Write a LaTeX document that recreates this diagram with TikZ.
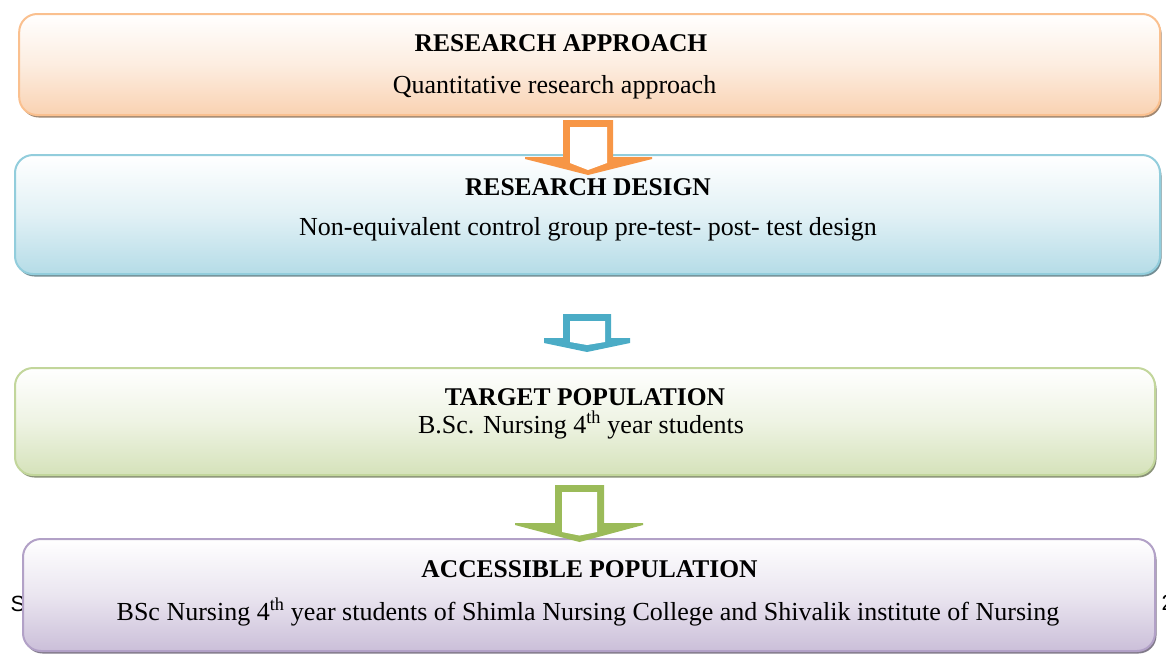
\documentclass[tikz,border=0pt]{standalone}
\usepackage{fontspec}
\setmainfont{Liberation Serif}
\newfontfamily\footfont{Liberation Sans}
\usetikzlibrary{shadows}

% Office-style palette
\definecolor{orgBorder}{HTML}{FAC08F}
\definecolor{orgFill}{HTML}{F9D2B2}
\definecolor{orgArrow}{HTML}{F79646}
\definecolor{bluBorder}{HTML}{92CDDC}
\definecolor{bluFill}{HTML}{B5DCE7}
\definecolor{bluArrow}{HTML}{4BACC6}
\definecolor{grnBorder}{HTML}{C2D69B}
\definecolor{grnFill}{HTML}{D5E2BA}
\definecolor{grnArrow}{HTML}{9BBB59}
\definecolor{vioBorder}{HTML}{B2A1C7}
\definecolor{vioFill}{HTML}{CBBFD9}

\tikzset{
  stagebox/.style 2 args={
    rectangle, rounded corners=18pt, line width=2pt, draw=#1,
    top color=white, bottom color=#2, middle color=#2!40!white,
    drop shadow={shadow xshift=1.5pt, shadow yshift=-2.5pt,
                 fill=#1!55!black, opacity=0.8},
    inner sep=0pt},
  headtext/.style={anchor=base, font=\fontsize{25.5}{30}\selectfont\bfseries},
  bodytext/.style={anchor=base, font=\fontsize{26}{30}\selectfont},
  pagetext/.style={anchor=base west, font=\fontsize{22}{26}\selectfont\footfont},
}

% hollow block arrow: colour, shaft left/right, shaft top, inner inset,
% wing left/right, wing top, wing thickness, tip y, inner tip y, inner side bottom
\newcommand\hollowarrow[9]{%
  \pgfmathsetmacro\cx{(#2+#3)/2}%
  \fill[#1] (#2,#4) -- (#3,#4) -- (#3,#7) -- (#6,#7) -- (#6,#7+#8)
     -- (\cx,#9) -- (#5,#7+#8) -- (#5,#7) -- (#2,#7) -- cycle;
}

\begin{document}
\begin{tikzpicture}[x=1pt,y=-1pt]
\useasboundingbox (0,0) rectangle (1166,654);

% stray page footer characters peeking past the last box
\node[pagetext] (pageS) at (7,611) {S};
\node[pagetext] (pageNum) at (1158,610) {2};

% stage boxes
\node[stagebox={orgBorder}{orgFill}, minimum width=1141pt, minimum height=101pt]
  (approach) at (589.7,64.5) {};
\node[stagebox={bluBorder}{bluFill}, minimum width=1145pt, minimum height=119pt]
  (design) at (587.5,214.5) {};
\node[stagebox={grnBorder}{grnFill}, minimum width=1140pt, minimum height=107pt]
  (target) at (585,421.5) {};
\node[stagebox={vioBorder}{vioFill}, minimum width=1132pt, minimum height=112pt]
  (access) at (589,595) {};

% box texts
\node[headtext] (approachT) at (561,51) {RESEARCH APPROACH};
\node[bodytext] (approachB) at (554.5,93) {Quantitative research approach};
\node[headtext] (designT) at (588,195) {RESEARCH DESIGN};
\node[bodytext] (designB) at (588,235) {Non-equivalent control group pre-test- post- test design};
\node[headtext] (targetT) at (585,405) {TARGET POPULATION};
\node[bodytext] (targetB) at (581,433) {B.Sc. Nursing 4\textsuperscript{th} year students};
\node[headtext] (accessT) at (589.5,577) {ACCESSIBLE POPULATION};
\node[bodytext] (accessB) at (588,620) {BSc Nursing 4\textsuperscript{th} year students of Shimla Nursing College and Shivalik institute of Nursing};

% block arrows between the stages (outer shape, then white hollow)
\fill[orgArrow] (563,120) -- (613,120) -- (613,157) -- (652,157) -- (652,159)
   -- (588,175) -- (525,159) -- (525,157) -- (563,157) -- cycle;
\fill[white] (570,127) -- (607,127) -- (607,163) -- (588,170) -- (570,163) -- cycle;

\fill[bluArrow] (563,314) -- (611,314) -- (611,338) -- (630,338) -- (630,343)
   -- (587,352) -- (544,343) -- (544,338) -- (563,338) -- cycle;
\fill[white] (570,321) -- (605,321) -- (605,342) -- (587,345) -- (570,342) -- cycle;

\fill[grnArrow] (555,485) -- (604,485) -- (604,523) -- (643,523) -- (643,525)
   -- (579.5,542) -- (515,525) -- (515,523) -- (555,523) -- cycle;
\fill[white] (562,492) -- (597,492) -- (597,532) -- (579.5,535.5) -- (562,532) -- cycle;
\end{tikzpicture}
\end{document}
